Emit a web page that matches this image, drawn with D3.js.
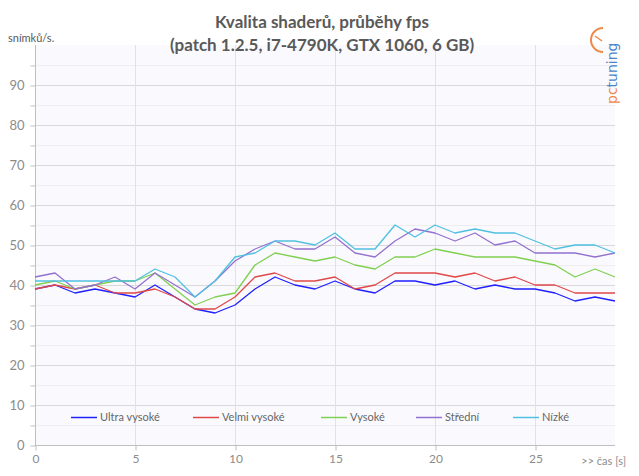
<!DOCTYPE html>
<html>
<head>
<meta charset="utf-8">
<script src="https://cdn.jsdelivr.net/npm/d3@7"></script>
<style>
  body { margin: 0; background: #fff; }
  svg { display: block; font-family: Lato, "Open Sans", sans-serif; }
</style>
</head>
<body>
<svg id="chart" width="639" height="476"></svg>
<script>
// data, one value per second
var seconds = d3.range(0, 30);
var seriesNames = ["Ultra vysoké", "Velmi vysoké", "Vysoké", "Střední", "Nízké"];
var seriesColors = ["#1f1fff", "#e04848", "#80d050", "#9370cf", "#50c0e0"];

var ultra  = [39,40,38,39,38,37,40,37,34,33,35,39,42,40,39,41,39,38,41,41,40,41,39,40,39,39,38,36,37,36];
var velmi  = [39,40,39,40,38,38,39,37,34,34,37,42,43,41,41,42,39,40,43,43,43,42,43,41,42,40,40,38,38,38];
var vysoke = [40,41,39,40,41,41,43,39,35,37,38,45,48,47,46,47,45,44,47,47,49,48,47,47,47,46,45,42,44,42];
var stredni= [42,43,39,40,42,39,43,40,37,41,46,49,51,49,49,52,48,47,51,54,53,51,53,50,51,48,48,48,47,48];
var nizke  = [41,41,41,41,41,41,44,42,37,41,47,48,51,51,50,53,49,49,55,52,55,53,54,53,53,51,49,50,50,48];

var yTicks = d3.range(0, 100, 5);
var xTicks = [0, 5, 10, 15, 20, 25];

var allSeries = [ultra, velmi, vysoke, stredni, nizke];

function drawChart() {
  var svg = d3.select("#chart"),
      pLeft = 35, pRight = 615, pTop = 45, pBottom = 445;

  var x = d3.scaleLinear().domain([0, 29]).range([pLeft, pRight]);
  var y = d3.scaleLinear().domain([0, 100]).range([pBottom, pTop]);

  // plot background
  svg.append("rect")
    .attr("x", pLeft).attr("y", pTop)
    .attr("width", pRight - pLeft).attr("height", pBottom - pTop)
    .attr("fill", "#fafafe");

  // horizontal grid, minor every 5, major every 10
  svg.append("g").selectAll("line")
    .data(yTicks.slice(1))
    .enter().append("line")
    .attr("x1", pLeft).attr("x2", pRight)
    .attr("y1", function(d){ return y(d) + 0.5; })
    .attr("y2", function(d){ return y(d) + 0.5; })
    .attr("stroke", function(d){ return d % 10 === 0 ? "#d9d9d9" : "#eeeeee"; });

  // vertical grid
  svg.append("g").selectAll("line")
    .data(xTicks.slice(1))
    .enter().append("line")
    .attr("x1", function(d){ return x(d) + 0.5; })
    .attr("x2", function(d){ return x(d) + 0.5; })
    .attr("y1", pTop).attr("y2", pBottom)
    .attr("stroke", "#e2e2e2");

  // y axis
  var yAxis = d3.axisLeft(y).tickValues(yTicks).tickSize(5)
    .tickFormat(function(d){ return d % 10 === 0 ? d : ""; });
  var gy = svg.append("g").attr("transform", "translate(" + (pLeft + 0.5) + ",0.5)").call(yAxis);
  gy.select(".domain").attr("stroke", "#bfbfbf").attr("d", "M0," + (pTop - 0.5) + "V" + (pBottom - 0.5));
  gy.selectAll(".tick line").attr("stroke", "#bfbfbf");
  gy.selectAll(".tick text").attr("fill", "#8c8c8c").attr("font-size", 13).attr("x", -11)
    .attr("font-family", "Lato, sans-serif");

  // x axis
  var xAxis = d3.axisBottom(x).tickValues(xTicks).tickSize(5);
  var gx = svg.append("g").attr("transform", "translate(0.5," + (pBottom + 0.5) + ")").call(xAxis);
  gx.select(".domain").attr("stroke", "#bfbfbf").attr("d", "M" + (pLeft - 0.5) + ",0H" + (pRight - 0.5));
  gx.selectAll(".tick line").attr("stroke", "#bfbfbf");
  gx.selectAll(".tick text").attr("fill", "#8c8c8c").attr("font-size", 12).attr("y", 9)
    .attr("font-family", "Lato, sans-serif");

  svg.append("text").attr("x", 626).attr("y", 465).attr("text-anchor", "end")
    .attr("font-size", 11).attr("fill", "#8c8c8c").text(">> čas [s]");

  // series lines
  var line = d3.line()
    .x(function(d, i){ return x(seconds[i]); })
    .y(function(d){ return y(d); });

  svg.append("g").selectAll("path")
    .data(allSeries)
    .enter().append("path")
    .attr("d", line)
    .attr("fill", "none")
    .attr("stroke", function(d, i){ return seriesColors[i]; })
    .attr("stroke-width", 1.3)
    .attr("stroke-linejoin", "round");

  // legend
  var legendX = [71, 193, 321, 416, 513];
  var lg = svg.append("g").selectAll("g")
    .data(seriesNames)
    .enter().append("g")
    .attr("transform", function(d, i){ return "translate(" + legendX[i] + ",417)"; });
  lg.append("line").attr("x1", 0).attr("x2", 26).attr("y1", 0.5).attr("y2", 0.5)
    .attr("stroke", function(d, i){ return seriesColors[i]; }).attr("stroke-width", 1.5);
  lg.append("text").attr("x", 29).attr("y", 4).attr("font-size", 11).attr("fill", "#666")
    .text(function(d){ return d; });

  // titles
  svg.append("text").attr("x", 322).attr("y", 28).attr("text-anchor", "middle")
    .attr("font-size", 17).attr("font-weight", "bold").attr("fill", "#595959")
    .text("Kvalita shaderů, průběhy fps");
  svg.append("text").attr("x", 322).attr("y", 51).attr("text-anchor", "middle")
    .attr("font-size", 17).attr("font-weight", "bold").attr("fill", "#595959")
    .text("(patch 1.2.5, i7-4790K, GTX 1060, 6 GB)");
  svg.append("text").attr("x", 8).attr("y", 42).attr("font-size", 11).attr("fill", "#595959")
    .text("snímků/s.");

  // logo
  var logo = svg.append("g").attr("transform", "translate(606,104) rotate(-90)");
  logo.append("text").attr("x", 0).attr("y", 11).attr("font-size", 14)
    .attr("font-family", "DejaVu Sans, sans-serif")
    .selectAll("tspan").data([["pc", "#f08848"], ["tuning", "#4a86c8"]])
    .enter().append("tspan").attr("fill", function(d){ return d[1]; }).text(function(d){ return d[0]; });
  var arc = d3.arc().innerRadius(11).outerRadius(13).startAngle(Math.PI * 1.0).endAngle(Math.PI * 2.0);
  svg.append("path").attr("d", arc()).attr("transform", "translate(603,40)").attr("fill", "#f08848");
  svg.append("line").attr("x1", 595).attr("y1", 36).attr("x2", 602).attr("y2", 41)
    .attr("stroke", "#f08848").attr("stroke-width", 1.5);
}

drawChart();
</script>
</body>
</html>
